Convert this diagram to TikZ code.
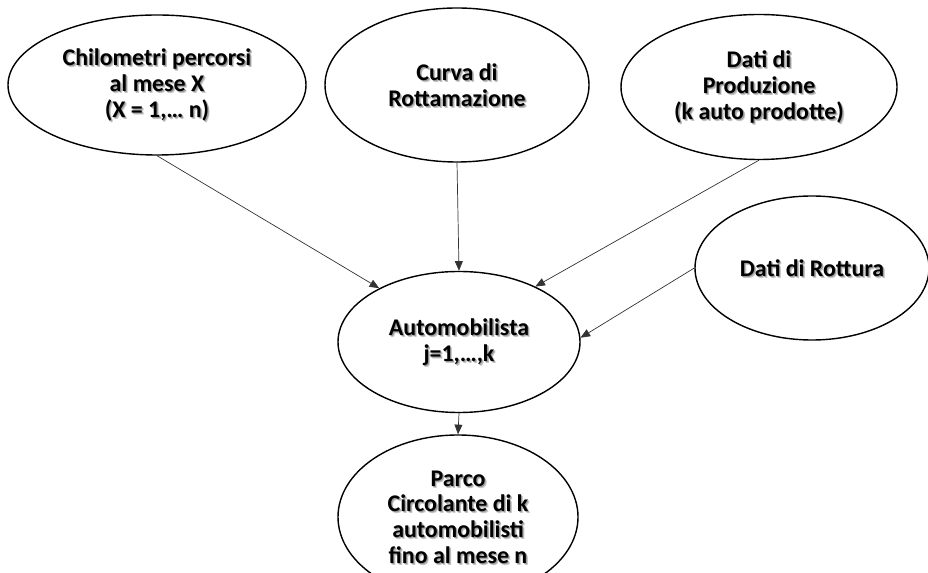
\documentclass[tikz,border=0pt]{standalone}
\usepackage{fontspec}
\setmainfont{Carlito}
\usetikzlibrary{shapes.geometric,arrows.meta}

% bold text with a soft drop shadow, one line at a time
\newcommand{\shline}[1]{\leavevmode
  \rlap{\raisebox{-1.1pt}[0pt][0pt]{\hspace{1.1pt}\textcolor{black!22}{#1}}}%
  \rlap{\raisebox{-0.6pt}[0pt][0pt]{\hspace{0.6pt}\textcolor{black!40}{#1}}}%
  #1}

\tikzset{
  bubble/.style={ellipse, draw=black, line width=0.8pt, fill=white,
    align=center, inner sep=0pt,
    font=\fontsize{13.6}{14.6}\selectfont\bfseries},
  link/.style={draw=black!80, line width=0.4pt,
    -{Triangle[length=5.5pt,width=4.5pt]}}
}

\begin{document}
\begin{tikzpicture}[x=0.02cm,y=-0.02cm]
\useasboundingbox (0,0) rectangle (928,573);
\begin{scope}
\clip (0,0) rectangle (928,573);

\node[bubble, minimum width=298*0.02cm, minimum height=140*0.02cm] (km) at (157,85)
  {\shline{Chilometri percorsi}\\\shline{al mese X}\\\shline{(X = 1,… n)}};
\node[bubble, minimum width=264*0.02cm, minimum height=154*0.02cm] (curva) at (457,85)
  {\shline{Curva di}\\\shline{Rottamazione}};
\node[bubble, minimum width=276*0.02cm, minimum height=145*0.02cm] (prod) at (759,87)
  {\shline{Dati di}\\\shline{Produzione}\\\shline{(k auto prodotte)}};
\node[bubble, minimum width=234*0.02cm, minimum height=144*0.02cm] (rott) at (812,268)
  {\shline{Dati di Rottura}};
\node[bubble, minimum width=242*0.02cm, minimum height=141*0.02cm] (auto) at (459,342)
  {\shline{Automobilista}\\\shline{j=1,…,k}};
\node[bubble, minimum width=240*0.02cm, minimum height=164*0.02cm] (parco) at (458,517)
  {\shline{Parco}\\\shline{Circolante di k}\\\shline{automobilisti}\\\shline{fino al mese n}};

\draw[link] (km.south) -- (auto.146);
\draw[link] (curva.south) -- (auto.north);
\draw[link] (prod.south) -- (auto.36);
\draw[link] (rott.west) -- (auto.2);
\draw[link] (auto.south) -- (parco.north);
\end{scope}
\end{tikzpicture}
\end{document}
